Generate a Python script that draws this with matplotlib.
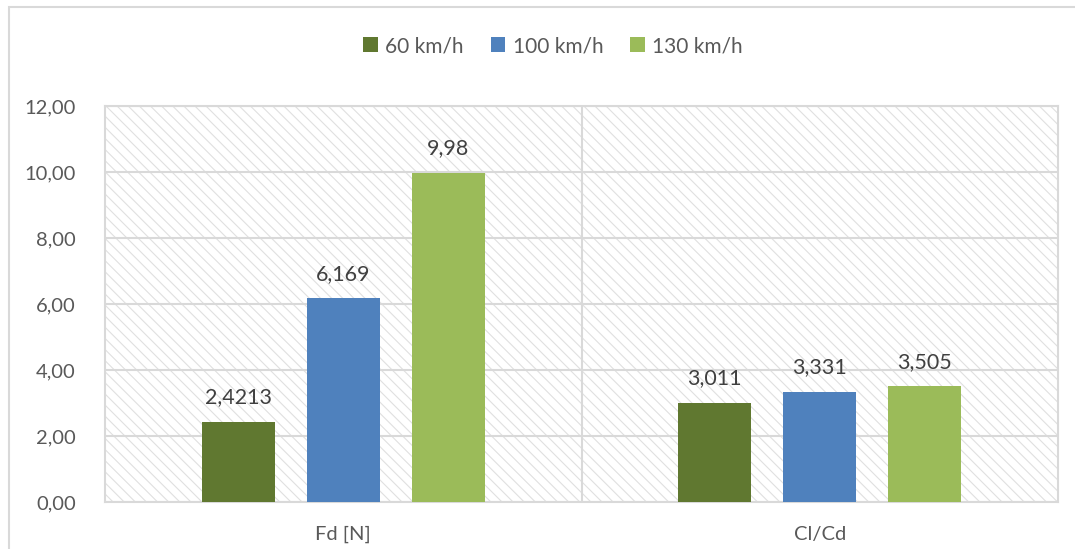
import matplotlib.pyplot as plt
import matplotlib as mpl
from matplotlib.patches import Rectangle
import numpy as np

categories = ["Fd [N]", "Cl/Cd"]
series_names = ["60 km/h", "100 km/h", "130 km/h"]
series_values = [
    [2.4213, 3.011],
    [6.169, 3.331],
    [9.98, 3.505],
]
value_labels = [
    ["2,4213", "3,011"],
    ["6,169", "3,331"],
    ["9,98", "3,505"],
]
series_colors = ["#607830", "#4F81BD", "#9BBB59"]
y_ticks = [0, 2, 4, 6, 8, 10, 12]
y_tick_labels = ["0,00", "2,00", "4,00", "6,00", "8,00", "10,00", "12,00"]

text_color = "#595959"
grid_color = "#d9d9d9"

plt.rcParams["font.family"] = ["Lato", "DejaVu Sans"]
plt.rcParams["hatch.linewidth"] = 0.8

fig = plt.figure(figsize=(10.75, 5.49), dpi=100)
ax = fig.add_axes([105 / 1075, 1 - 502 / 549, (1058 - 105) / 1075, (502 - 106) / 549])

# outer chart frame (extends past the right and bottom edges)
fig.patches.append(Rectangle((9 / 1075, -0.05), 1.2, 1 - 7 / 549 + 0.05,
                             transform=fig.transFigure, fill=False,
                             edgecolor=grid_color, linewidth=1.5, zorder=0))

# hatched plot-area background
ax.add_patch(Rectangle((0, 0), 1, 1, transform=ax.transAxes, facecolor="white",
                       edgecolor="#e0e0e0", linewidth=0, hatch="\\\\\\", zorder=0))

x = np.arange(len(categories))
width = 0.153
offsets = [-0.2206, 0.0, 0.2206]
for vals, labels, name, color, off in zip(series_values, value_labels,
                                          series_names, series_colors, offsets):
    bars = ax.bar(x + off, vals, width, color=color, label=name, zorder=3)
    for b, lab in zip(bars, labels):
        ax.annotate(lab, (b.get_x() + b.get_width() / 2, b.get_height()),
                    xytext=(0, 10.5), textcoords="offset points",
                    ha="center", va="bottom", fontsize=15.5, color="#404040")

ax.set_xlim(-0.5, 1.5)
ax.set_ylim(0, 12)
ax.set_yticks(y_ticks)
ax.set_yticklabels(y_tick_labels)
ax.set_xticks(x)
ax.set_xticklabels(categories)
ax.tick_params(axis="y", length=0, pad=21, labelsize=14.5, labelcolor=text_color)
ax.tick_params(axis="x", length=0, pad=17, labelsize=14.5, labelcolor=text_color)

for yv in y_ticks:
    ax.axhline(yv, color=grid_color, linewidth=1.5, zorder=1)
ax.axvline(0.5, color=grid_color, linewidth=1.5, zorder=1)

for s in ax.spines.values():
    s.set_color(grid_color)
    s.set_linewidth(1.5)

leg = fig.legend(loc="center", bbox_to_anchor=(553 / 1075, 1 - 46 / 549), ncol=3,
                 frameon=False, fontsize=15, handlelength=0.7, handleheight=0.7,
                 handletextpad=0.35, columnspacing=1.3)
for t in leg.get_texts():
    t.set_color(text_color)

fig.savefig("out.png", dpi=100)
